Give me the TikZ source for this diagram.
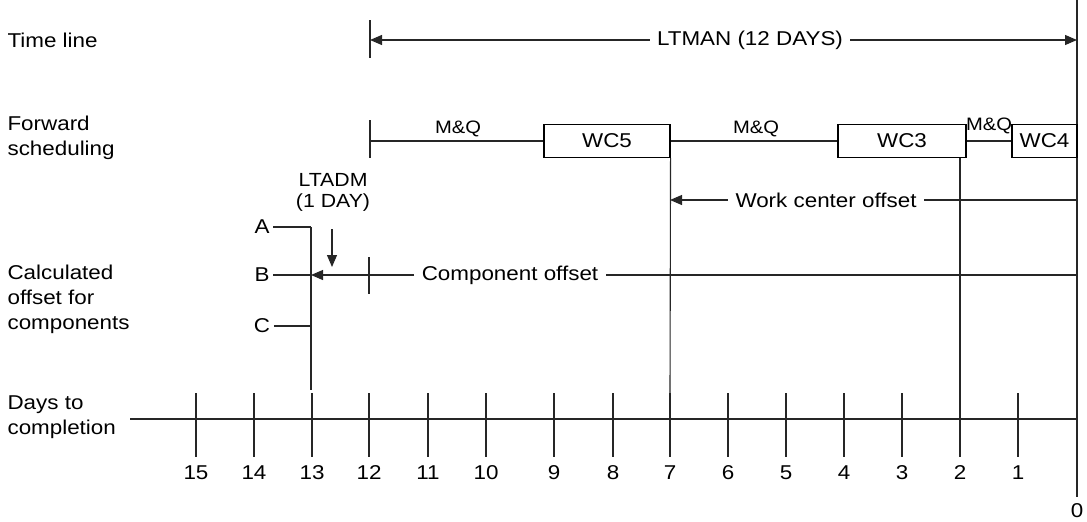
\documentclass[tikz,border=0pt]{standalone}
\usepackage{fontspec}
\setmainfont{Liberation Sans}[FakeStretch=1.12]
\usepackage{tikz}
\usetikzlibrary{arrows.meta,positioning}

\begin{document}
\begin{tikzpicture}[x=1pt,y=-1pt,>={Triangle[length=12pt,width=10pt]},line width=1.1pt,
    every node/.style={font=\fontsize{20}{25}\selectfont},
    row label/.style={anchor=west,align=left,inner sep=0pt},
    wc box/.style={draw,minimum height=33pt,inner sep=0pt},
    mq label/.style={font=\fontsize{18}{20}\selectfont,inner sep=0pt},
    offset label/.style={inner sep=7pt},
    line/.style={draw=black!85}]
    \useasboundingbox (0,0) rectangle (1087,522);

    % row labels
    \node[row label] (timeline) at (7,40) {Time line};
    \node[row label] (forward) at (7,138) {Forward\\scheduling};
    \node[row label] (calc) at (7,299) {Calculated\\offset for\\components};
    \node[row label] (days) at (7,417) {Days to\\completion};

    % days to completion
    \coordinate (axstart) at (130,419);
    \coordinate (axend) at (1077,419);
    \draw[line] (axstart) -- (axend);
    \foreach \d/\x in {15/196,14/254,13/312,12/369,11/428,10/486,9/554,8/613,7/670,6/728,5/786,4/844,3/902,2/960,1/1018}{
        \coordinate (tt\d) at (\x,393);
        \coordinate (tb\d) at (\x,457);
        \draw[line] (tt\d) -- (tb\d);
        \node (n\d) at (\x,473) {\d};
    }
    \coordinate (top0) at (1077,0);
    \coordinate (bot0) at (1077,497);
    \draw[line] (top0) -- (bot0);
    \node (n0) at (1077,511) {0};

    % time line
    \node[offset label] (ltman) at (750,40) {LTMAN (12 DAYS)};
    \coordinate (tlL) at (370,40);
    \coordinate (tlR) at (1077,40);
    \coordinate (tlTop) at (370,20);
    \coordinate (tlBot) at (370,58);
    \draw[line] (tlTop) -- (tlBot);
    \draw[line,->] (ltman.west) -- (tlL);
    \draw[line,->] (ltman.east) -- (tlR);

    % forward scheduling
    \coordinate (fsTop) at (370,120);
    \coordinate (fsBot) at (370,158);
    \coordinate (fs12) at (370,141);
    \draw[line] (fsTop) -- (fsBot);
    \node[wc box,minimum width=126pt] (wc5) at (607,141) {WC5};
    \node[wc box,minimum width=128pt] (wc3) at (902,141) {WC3};
    \node[wc box,minimum width=65pt] (wc4) at (1044.5,141) {WC4};
    \draw[line] (fs12) -- (wc5.west);
    \draw[line] (wc5.east) -- (wc3.west);
    \draw[line] (wc3.east) -- (wc4.west);
    \node[mq label] (mq1) at (458,129) {M\&Q};
    \node[mq label] (mq2) at (756,129) {M\&Q};
    \node[mq label] (mq3) at (989,126) {M\&Q};

    \coordinate (wc3drop) at (960,157.5);
    \draw[line] (wc5.south east) -- (tt7);
    \draw[line] (wc3drop) -- (tt2);

    % work center offset
    \node[offset label] (wco) at (826,200) {Work center offset};
    \coordinate (wcoL) at (670,200);
    \coordinate (wcoR) at (1077,200);
    \draw[line] (wcoR) -- (wco.east);
    \draw[line,->] (wco.west) -- (wcoL);

    % component offset
    \node (lA) at (262,227) {A};
    \node (lB) at (262,275) {B};
    \node (lC) at (262,326) {C};
    \coordinate (jA) at (311,227);
    \coordinate (jB) at (311,275);
    \coordinate (jC) at (311,326);
    \draw[line] (lA) -- (jA);
    \draw[line] (lB) -- (jB);
    \draw[line] (lC) -- (jC);
    \draw[line] (jA) -- (311,390);

    \node[offset label] (co) at (510,275) {Component offset};
    \coordinate (coR) at (1077,275);
    \draw[line] (coR) -- (co.east);
    \draw[line,->] (co.west) -- (jB);
    \coordinate (coTop) at (369,257);
    \coordinate (coBot) at (369,294);
    \draw[line] (coTop) -- (coBot);

    \node[font=\fontsize{19}{21}\selectfont,align=center] (ltadm) at (333,192) {LTADM\\(1 DAY)};
    \coordinate (dnTop) at (332,229);
    \coordinate (dnTip) at (332,267);
    \draw[line,->] (dnTop) -- (dnTip);
\end{tikzpicture}
\end{document}
